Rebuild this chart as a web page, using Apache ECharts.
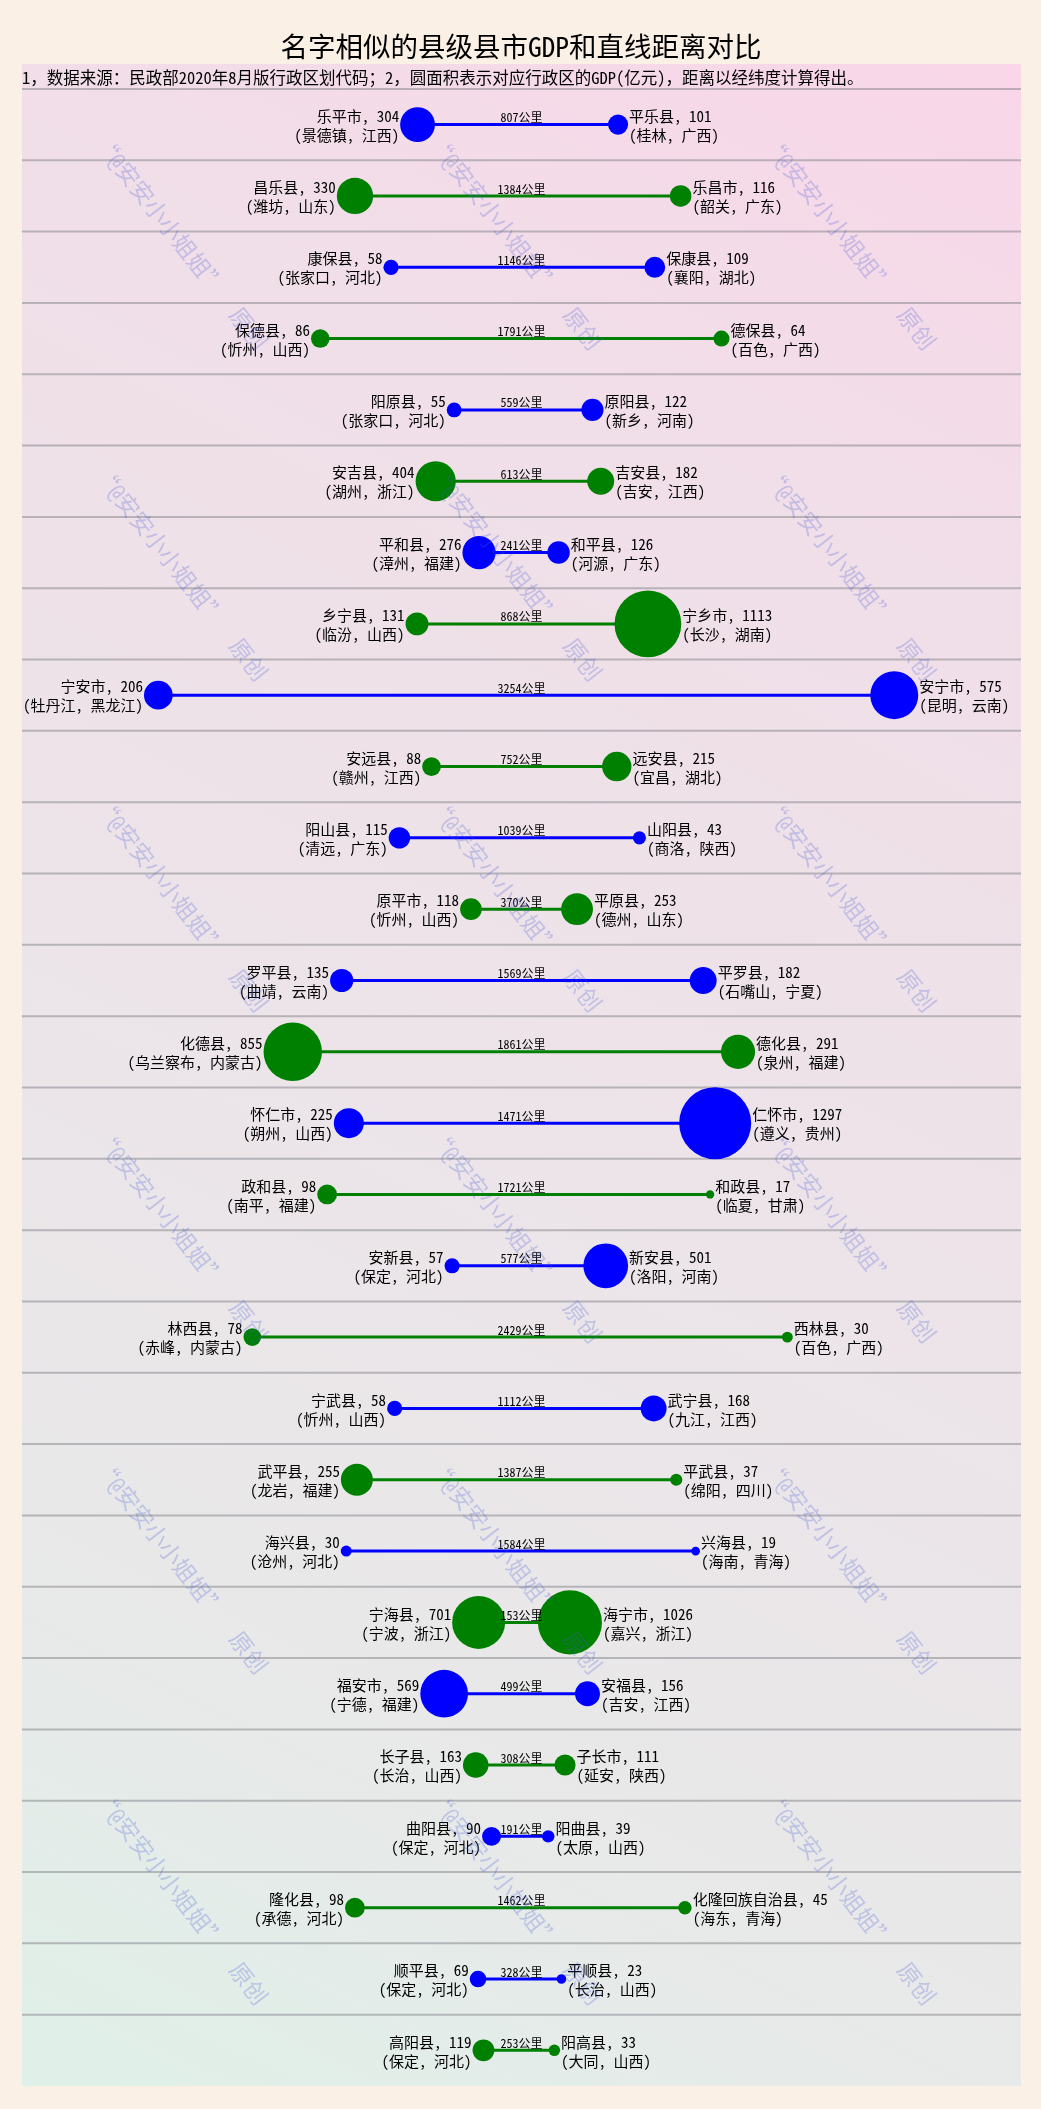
<!DOCTYPE html>
<html>
<head>
<meta charset="utf-8">
<script src="https://cdn.jsdelivr.net/npm/echarts@6/dist/echarts.min.js"></script>
<style>
html,body{margin:0;padding:0;background:#faf0e6;}
#main{width:1041px;height:2109px;}
</style>
</head>
<body>
<div id="main"></div>
<script>
// ---- data (top to bottom) ----
const leftNames = ['乐平市','昌乐县','康保县','保德县','阳原县','安吉县','平和县','乡宁县','宁安市','安远县','阳山县','原平市','罗平县','化德县','怀仁市','政和县','安新县','林西县','宁武县','武平县','海兴县','宁海县','福安市','长子县','曲阳县','隆化县','顺平县','高阳县'];
const leftGdp = [304,330,58,86,55,404,276,131,206,88,115,118,135,855,225,98,57,78,58,255,30,701,569,163,90,98,69,119];
const leftAreas = ['景德镇, 江西','潍坊, 山东','张家口, 河北','忻州, 山西','张家口, 河北','湖州, 浙江','漳州, 福建','临汾, 山西','牡丹江, 黑龙江','赣州, 江西','清远, 广东','忻州, 山西','曲靖, 云南','乌兰察布, 内蒙古','朔州, 山西','南平, 福建','保定, 河北','赤峰, 内蒙古','忻州, 山西','龙岩, 福建','沧州, 河北','宁波, 浙江','宁德, 福建','长治, 山西','保定, 河北','承德, 河北','保定, 河北','保定, 河北'];
const rightNames = ['平乐县','乐昌市','保康县','德保县','原阳县','吉安县','和平县','宁乡市','安宁市','远安县','山阳县','平原县','平罗县','德化县','仁怀市','和政县','新安县','西林县','武宁县','平武县','兴海县','海宁市','安福县','子长市','阳曲县','化隆回族自治县','平顺县','阳高县'];
const rightGdp = [101,116,109,64,122,182,126,1113,575,215,43,253,182,291,1297,17,501,30,168,37,19,1026,156,111,39,45,23,33];
const rightAreas = ['桂林, 广西','韶关, 广东','襄阳, 湖北','百色, 广西','新乡, 河南','吉安, 江西','河源, 广东','长沙, 湖南','昆明, 云南','宜昌, 湖北','商洛, 陕西','德州, 山东','石嘴山, 宁夏','泉州, 福建','遵义, 贵州','临夏, 甘肃','洛阳, 河南','百色, 广西','九江, 江西','绵阳, 四川','海南, 青海','嘉兴, 浙江','吉安, 江西','延安, 陕西','太原, 山西','海东, 青海','长治, 山西','大同, 山西'];
const distances = [807,1384,1146,1791,559,613,241,868,3254,752,1039,370,1569,1861,1471,1721,577,2429,1112,1387,1584,153,499,308,191,1462,328,253];
const titleText = '名字相似的县级县市GDP和直线距离对比';
const noteText = '1，数据来源：民政部2020年8月版行政区划代码；2，圆面积表示对应行政区的GDP(亿元)，距离以经纬度计算得出。';
const watermarkText = '“@安安小小姐姐”　原创';

const FONT = '"Noto Sans Mono CJK SC","Noto Sans CJK SC",sans-serif';
const colors = ['#0000ff', '#008000'];
const R_SCALE = 1.0; // px radius per sqrt(GDP)

const chart = echarts.init(document.getElementById('main'), null, {renderer: 'canvas'});

const seriesData = distances.map((d, i) => [-d / 2, d / 2, i + 0.5, i]);

function renderItem(params, api) {
  const i = api.value(3);
  const cs = params.coordSys;
  const pL = api.coord([api.value(0), api.value(2)]);
  const pR = api.coord([api.value(1), api.value(2)]);
  const pC = api.coord([0, api.value(2)]);
  const top = api.coord([0, i]);
  const rL = Math.sqrt(leftGdp[i]) * R_SCALE;
  const rR = Math.sqrt(rightGdp[i]) * R_SCALE;
  const xL = pL[0] - rL, xR = pR[0] + rR, y = pL[1];
  const col = colors[i % 2];
  return {
    type: 'group',
    children: [
      {type: 'line', z2: 0, shape: {x1: cs.x, y1: top[1], x2: cs.x + cs.width, y2: top[1]},
       style: {stroke: 'rgba(130,130,135,0.5)', lineWidth: 2}},
      {type: 'line', z2: 1, shape: {x1: xL, y1: y, x2: xR, y2: y},
       style: {stroke: col, lineWidth: 3}},
      {type: 'circle', z2: 2, shape: {cx: xL, cy: y, r: rL}, style: {fill: col}},
      {type: 'circle', z2: 2, shape: {cx: xR, cy: y, r: rR}, style: {fill: col}},
      {type: 'text', z2: 3, x: pC[0], y: y - 1,
       style: {text: distances[i] + '公里', fill: '#000', font: '12px ' + FONT, align: 'center', verticalAlign: 'bottom'}},
      {type: 'text', z2: 3, x: xL - rL - 1, y: y + 1,
       style: {text: leftNames[i] + ', ' + leftGdp[i] + '\n(' + leftAreas[i] + ')', fill: '#000', font: '15px ' + FONT,
               lineHeight: 19, align: 'right', verticalAlign: 'middle'}},
      {type: 'text', z2: 3, x: xR + rR + 1, y: y + 1,
       style: {text: rightNames[i] + ', ' + rightGdp[i] + '\n(' + rightAreas[i] + ')', fill: '#000', font: '15px ' + FONT,
               lineHeight: 19, align: 'left', verticalAlign: 'middle'}}
    ]
  };
}

// watermarks
const wmCols = [100, 434, 768];
const wmRows = [138, 469, 800, 1131, 1462, 1793];
const wmGraphics = [];
wmRows.forEach(yy => wmCols.forEach(xx => {
  wmGraphics.push({type: 'text', x: xx, y: yy, rotation: -52 * Math.PI / 180, z: 100,
    style: {text: watermarkText, fill: 'rgba(70,90,215,0.26)', font: '23px ' + FONT, align: 'left', verticalAlign: 'middle'}});
}));

chart.setOption({
  backgroundColor: '#faf0e6',
  animation: false,
  grid: {
    left: 22, right: 20, top: 64, bottom: 23, show: true, borderWidth: 0,
    backgroundColor: {type: 'linear', x: 1, y: 0, x2: 0, y2: 1, colorStops: [
      {offset: 0, color: '#f9d6e8'}, {offset: 0.2, color: '#f1dee8'},
      {offset: 0.8, color: '#e8e9e9'}, {offset: 1, color: '#dff0e8'}]}
  },
  xAxis: {type: 'value', min: -2330, max: 2330, show: false},
  yAxis: {type: 'value', min: -0.35, max: 28, inverse: true, show: false},
  graphic: [
    {type: 'text', x: 521, y: 47, z: 50, style: {text: titleText, fill: '#000', font: '27.5px ' + FONT, align: 'center', verticalAlign: 'middle'}},
    {type: 'text', x: 22, y: 78, z: 50, style: {text: noteText, fill: '#000', font: '16.5px ' + FONT, align: 'left', verticalAlign: 'middle'}}
  ].concat(wmGraphics),
  series: [{
    type: 'custom',
    renderItem: renderItem,
    encode: {x: [0, 1], y: 2},
    data: seriesData,
    clip: false
  }]
});
</script>
</body>
</html>
